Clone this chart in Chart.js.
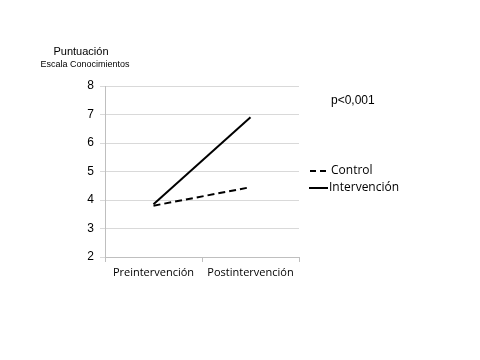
<!DOCTYPE html>
<html>
<head>
<meta charset="utf-8">
<script src="https://cdn.jsdelivr.net/npm/chart.js@4"></script>
<style>
  html, body { margin: 0; padding: 0; background: #fff; }
  #wrap { width: 480px; height: 360px; }
</style>
</head>
<body>
<div id="wrap"><canvas id="chart" width="480" height="360"></canvas></div>
<script>
// data
const categories = ['Preintervención', 'Postintervención'];
const controlValues = [3.8, 4.45];
const intervencionValues = [3.85, 6.9];
const yTicks = [2, 3, 4, 5, 6, 7, 8];

// y-axis title, p-value note and the legend drawn by hand
const extras = {
    id: 'extras',
    afterDraw(chart) {
        const c = chart.ctx;
        c.save();
        c.fillStyle = '#000';
        c.textAlign = 'center';
        c.textBaseline = 'middle';
        c.font = '11px "Liberation Sans", Arial, sans-serif';
        c.fillText('Puntuación', 81, 52);
        c.font = '9px "Liberation Sans", Arial, sans-serif';
        c.fillText('Escala Conocimientos', 85, 65);
        c.textAlign = 'left';
        c.font = '12px "Liberation Sans", Arial, sans-serif';
        c.fillText('p<0,001', 331, 101);

        // legend
        c.font = '12px "Open Sans", sans-serif';
        c.lineWidth = 2;
        c.strokeStyle = '#000';
        c.setLineDash([6, 4]);
        c.beginPath(); c.moveTo(310, 171); c.lineTo(327, 171); c.stroke();
        c.setLineDash([]);
        c.beginPath(); c.moveTo(309, 188); c.lineTo(328, 188); c.stroke();
        c.fillText('Control', 331, 171);
        c.fillText('Intervención', 329, 188);
        c.restore();
    }
};

new Chart(document.getElementById('chart'), {
    type: 'line',
    data: {
        labels: categories,
        datasets: [{
            label: 'Control',
            data: controlValues,
            borderColor: '#000',
            borderWidth: 2,
            borderDash: [7, 4],
            pointRadius: 0,
            fill: false
        }, {
            label: 'Intervención',
            data: intervencionValues,
            borderColor: '#000',
            borderWidth: 2,
            pointRadius: 0,
            fill: false
        }]
    },
    options: {
        responsive: false,
        animation: false,
        layout: { padding: { top: 86, right: 181, bottom: 0, left: 0 } },
        plugins: {
            legend: { display: false },
            tooltip: { enabled: false }
        },
        scales: {
            x: {
                offset: true,
                grid: {
                    offset: true,
                    drawOnChartArea: false,
                    color: '#bfbfbf',
                    tickLength: 5
                },
                border: { color: '#bfbfbf' },
                ticks: {
                    color: '#000',
                    font: { family: '"Open Sans", sans-serif', size: 11 },
                    padding: 4,
                    maxRotation: 0
                },
                afterFit(scale) { scale.height = 103; }
            },
            y: {
                min: 2,
                max: 8,
                afterBuildTicks(scale) {
                    scale.ticks = yTicks.map(v => ({ value: v }));
                },
                grid: { color: '#d9d9d9', tickLength: 5 },
                border: { color: '#bfbfbf' },
                ticks: {
                    color: '#000',
                    font: { family: '"Liberation Sans", Arial, sans-serif', size: 12 },
                    padding: 6
                },
                afterFit(scale) { scale.width = 105; }
            }
        }
    },
    plugins: [extras]
});
</script>
</body>
</html>
